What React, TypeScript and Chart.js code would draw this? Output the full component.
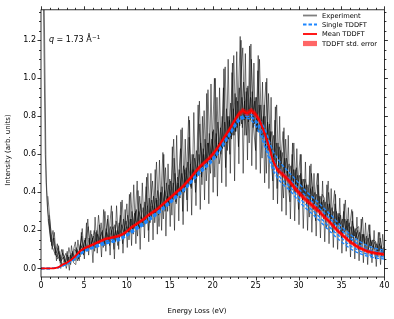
import React, { useEffect, useRef } from "react";
import { Chart, registerables } from "chart.js";

Chart.register(...registerables);

// Experiment: five scans on 0.25 eV grids (interleaved start offsets)
const expStep = 0.25;
const expOffsets = [0, 0.1, 0.2, 0.05, 0.15];
const expScanA = [
  null, 1.5, 0.6, 0.32,
  0.22, 0.12, 0.16, 0.08,
  0.11, 0.03, 0.08, 0.06,
  0.02, 0.11, 0.05, 0.09,
  0.14, 0.04, 0.1, 0.17,
  0.08, 0.15, 0.22, 0.1,
  0.16, 0.09, 0.2, 0.13,
  0.24, 0.11, 0.17, 0.26,
  0.12, 0.2, 0.1, 0.25,
  0.18, 0.28, 0.13, 0.21,
  0.34, 0.15, 0.26, 0.18,
  0.3, 0.17, 0.38, 0.22,
  0.27, 0.43, 0.2, 0.33,
  0.46, 0.24, 0.36, 0.22,
  0.4, 0.26, 0.53, 0.3,
  0.47, 0.28, 0.58, 0.34,
  0.45, 0.63, 0.3, 0.52,
  0.36, 0.69, 0.42, 0.6,
  0.4, 0.55, 0.76, 0.44,
  0.83, 0.46, 0.66, 0.5,
  0.72, 0.48, 0.9, 0.55,
  0.62, 0.95, 0.53, 0.8,
  0.6, 1.03, 0.7, 0.9,
  0.64, 0.98, 1.16, 0.7,
  0.95, 0.66, 1.1, 0.74,
  0.62, 1.04, 0.78, 0.58,
  0.86, 0.5, 0.92, 0.6,
  0.46, 0.78, 0.42, 0.64,
  0.56, 0.37, 0.68, 0.45,
  0.35, 0.6, 0.4, 0.53,
  0.31, 0.5, 0.36, 0.47,
  0.42, 0.27, 0.5, 0.33,
  0.25, 0.44, 0.3, 0.39,
  0.37, 0.21, 0.4, 0.24,
  0.19, 0.34, 0.23, 0.29,
  0.16, 0.3, 0.2, 0.26,
  0.13, 0.25, 0.17, 0.21,
  0.22, 0.1, 0.18, 0.13,
  0.09, 0.18, 0.12, 0.15,
  0.14, 0.06, 0.16, 0.09,
  0.05,
];
const expScanB = [
  null, 1.5, 0.45, 0.25,
  0.16, 0.11, 0.08, 0.06,
  0.09, 0.04, 0.06, 0.03,
  0.07, 0.03, 0.08, 0.05,
  0.11, 0.07, 0.13, 0.09,
  0.15, 0.1, 0.16, 0.12,
  0.17, 0.11, 0.18, 0.13,
  0.19, 0.13, 0.21, 0.14,
  0.22, 0.14, 0.23, 0.16,
  0.24, 0.17, 0.26, 0.18,
  0.28, 0.19, 0.3, 0.21,
  0.31, 0.22, 0.34, 0.24,
  0.35, 0.25, 0.37, 0.27,
  0.38, 0.29, 0.41, 0.3,
  0.43, 0.32, 0.45, 0.34,
  0.46, 0.36, 0.5, 0.38,
  0.52, 0.4, 0.54, 0.43,
  0.56, 0.44, 0.6, 0.47,
  0.62, 0.49, 0.66, 0.52,
  0.68, 0.54, 0.71, 0.57,
  0.73, 0.59, 0.77, 0.62,
  0.8, 0.64, 0.84, 0.68,
  0.87, 0.7, 0.92, 0.74,
  0.95, 0.76, 0.98, 0.79,
  0.96, 0.78, 0.93, 0.76,
  0.9, 0.72, 0.86, 0.68,
  0.8, 0.63, 0.76, 0.59,
  0.7, 0.55, 0.66, 0.52,
  0.61, 0.49, 0.58, 0.47,
  0.54, 0.44, 0.52, 0.42,
  0.49, 0.39, 0.47, 0.38,
  0.44, 0.35, 0.43, 0.34,
  0.39, 0.31, 0.38, 0.3,
  0.35, 0.27, 0.34, 0.26,
  0.3, 0.23, 0.29, 0.22,
  0.26, 0.19, 0.25, 0.18,
  0.22, 0.16, 0.21, 0.15,
  0.19, 0.13, 0.18, 0.12,
  0.16, 0.11, 0.15, 0.1,
  0.13, 0.09, 0.12, 0.08,
  0.1,
];
const expScanC = [
  null, null, null, 0.28,
  0.18, 0.13, 0.09, 0.05,
  0.07, 0.01, 0.05, 0.0,
  0.06, 0.02, 0.09, 0.04,
  0.1, 0.04, 0.19, 0.07,
  0.13, 0.26, 0.11, 0.14,
  0.2, 0.12, 0.28, 0.15,
  0.16, 0.3, 0.13, 0.19,
  0.33, 0.15, 0.2, 0.12,
  0.21, 0.36, 0.17, 0.22,
  0.19, 0.4, 0.2, 0.25,
  0.46, 0.21, 0.27, 0.22,
  0.3, 0.5, 0.24, 0.33,
  0.27, 0.56, 0.28, 0.36,
  0.61, 0.3, 0.38, 0.33,
  0.42, 0.68, 0.35, 0.45,
  0.37, 0.74, 0.4, 0.49,
  0.8, 0.43, 0.52, 0.45,
  0.56, 0.88, 0.48, 0.6,
  0.52, 0.94, 0.55, 0.64,
  1.0, 0.58, 0.66, 0.6,
  0.74, 1.06, 0.62, 0.78,
  0.68, 1.12, 0.72, 0.84,
  1.22, 0.74, 0.88, 0.7,
  0.86, 1.18, 0.74, 0.9,
  0.72, 1.1, 0.7, 0.8,
  0.98, 0.62, 0.72, 0.56,
  0.62, 0.86, 0.5, 0.58,
  0.72, 0.44, 0.52, 0.4,
  0.48, 0.66, 0.4, 0.46,
  0.6, 0.36, 0.44, 0.33,
  0.4, 0.55, 0.31, 0.38,
  0.5, 0.28, 0.35, 0.26,
  0.32, 0.46, 0.24, 0.3,
  0.41, 0.2, 0.27, 0.18,
  0.24, 0.36, 0.15, 0.22,
  0.31, 0.12, 0.19, 0.1,
  0.16, 0.27, 0.09, 0.14,
  0.23, 0.06, 0.12, 0.05,
  0.1, 0.19, 0.06, 0.1,
  0.08,
];
const expScanD = [
  null, null, null, 0.38,
  0.25, 0.1, 0.19, 0.04,
  0.12, 0.0, 0.1, 0.02,
  0.09, -0.01, 0.12, 0.03,
  0.02, 0.15, 0.06, 0.21,
  0.05, 0.24, 0.07, 0.2,
  0.03, 0.27, 0.08, 0.23,
  0.06, 0.31, 0.09, 0.28,
  0.07, 0.3, 0.05, 0.33,
  0.1, 0.35, 0.08, 0.31,
  0.11, 0.39, 0.12, 0.44,
  0.13, 0.41, 0.1, 0.45,
  0.16, 0.48, 0.14, 0.5,
  0.15, 0.52, 0.18, 0.57,
  0.2, 0.6, 0.17, 0.55,
  0.22, 0.64, 0.2, 0.7,
  0.25, 0.73, 0.23, 0.68,
  0.3, 0.78, 0.28, 0.82,
  0.33, 0.86, 0.31, 0.8,
  0.36, 0.92, 0.34, 0.97,
  0.4, 1.0, 0.38, 0.95,
  0.45, 1.05, 0.43, 1.1,
  0.5, 1.08, 0.46, 1.14,
  0.55, 1.2, 0.5, 1.13,
  0.57, 1.17, 0.54, 1.08,
  0.52, 1.12, 0.5, 0.98,
  0.45, 1.0, 0.42, 0.9,
  0.36, 0.85, 0.34, 0.8,
  0.3, 0.74, 0.28, 0.7,
  0.26, 0.66, 0.25, 0.63,
  0.23, 0.6, 0.21, 0.56,
  0.2, 0.54, 0.19, 0.5,
  0.17, 0.5, 0.16, 0.46,
  0.14, 0.44, 0.13, 0.42,
  0.11, 0.39, 0.1, 0.37,
  0.08, 0.34, 0.09, 0.32,
  0.06, 0.3, 0.05, 0.27,
  0.04, 0.26, 0.03, 0.24,
  0.02, 0.23, 0.03, 0.2,
  0.01, 0.19, 0.02, 0.18,
  0.04,
];
const expScanE = [
  null, null, null, 0.26,
  0.14, 0.2, 0.07, 0.13,
  0.04, 0.1, 0.05, 0.08,
  0.03, 0.07, 0.04, 0.1,
  0.09, 0.05, 0.12, 0.1,
  0.16, 0.09, 0.13, 0.18,
  0.11, 0.19, 0.13, 0.17,
  0.2, 0.12, 0.19, 0.15,
  0.19, 0.22, 0.14, 0.2,
  0.16, 0.23, 0.19, 0.25,
  0.2, 0.26, 0.21, 0.29,
  0.22, 0.3, 0.26, 0.32,
  0.25, 0.33, 0.27, 0.36,
  0.29, 0.37, 0.3, 0.4,
  0.32, 0.41, 0.35, 0.44,
  0.35, 0.45, 0.37, 0.48,
  0.39, 0.5, 0.42, 0.53,
  0.44, 0.55, 0.46, 0.58,
  0.48, 0.6, 0.51, 0.63,
  0.53, 0.66, 0.56, 0.68,
  0.58, 0.71, 0.6, 0.74,
  0.63, 0.77, 0.66, 0.8,
  0.69, 0.84, 0.72, 0.88,
  0.75, 0.9, 0.78, 0.93,
  0.77, 0.9, 0.8, 0.88,
  0.72, 0.86, 0.74, 0.8,
  0.64, 0.77, 0.66, 0.72,
  0.55, 0.66, 0.56, 0.62,
  0.48, 0.58, 0.5, 0.55,
  0.43, 0.52, 0.44, 0.49,
  0.38, 0.47, 0.39, 0.44,
  0.34, 0.42, 0.35, 0.4,
  0.3, 0.38, 0.31, 0.36,
  0.26, 0.34, 0.27, 0.32,
  0.22, 0.3, 0.23, 0.28,
  0.18, 0.26, 0.2, 0.24,
  0.14, 0.22, 0.16, 0.2,
  0.12, 0.18, 0.13, 0.17,
  0.1, 0.15, 0.11, 0.14,
  0.08, 0.13, 0.09, 0.11,
  0.07,
];
const expScans = [expScanA, expScanB, expScanC, expScanD, expScanE];

// Mean TDDFT on a 0.5 eV grid
const meanStep = 0.5;
const meanTDDFT = [
  0, 0, 0, 0, 0.005, 0.02, 0.03, 0.045, 0.065, 0.09,
  0.105, 0.115, 0.125, 0.135, 0.145, 0.155, 0.16, 0.165, 0.17, 0.18,
  0.195, 0.215, 0.23, 0.245, 0.26, 0.28, 0.295, 0.31, 0.33, 0.35,
  0.37, 0.39, 0.41, 0.43, 0.455, 0.48, 0.51, 0.535, 0.555, 0.575,
  0.6, 0.63, 0.665, 0.7, 0.735, 0.775, 0.81, 0.83, 0.815, 0.83,
  0.81, 0.775, 0.715, 0.65, 0.57, 0.52, 0.5, 0.48, 0.455, 0.425,
  0.4, 0.375, 0.355, 0.335, 0.315, 0.295, 0.27, 0.25, 0.225, 0.2,
  0.18, 0.16, 0.14, 0.125, 0.11, 0.1, 0.09, 0.085, 0.08, 0.077,
  0.074,
];
// Standard error of the mean on the same grid
const stdErrTDDFT = [
  0, 0, 0, 0, 0.002, 0.003, 0.004, 0.005, 0.006, 0.007,
  0.007, 0.007, 0.008, 0.008, 0.008, 0.008, 0.008, 0.008, 0.008, 0.009,
  0.009, 0.009, 0.009, 0.009, 0.01, 0.01, 0.01, 0.01, 0.01, 0.01,
  0.011, 0.011, 0.011, 0.011, 0.012, 0.012, 0.012, 0.012, 0.012, 0.013,
  0.013, 0.013, 0.013, 0.014, 0.014, 0.014, 0.015, 0.015, 0.015, 0.015,
  0.016, 0.016, 0.016, 0.016, 0.016, 0.016, 0.015, 0.015, 0.015, 0.015,
  0.015, 0.015, 0.014, 0.014, 0.014, 0.014, 0.013, 0.013, 0.013, 0.012,
  0.012, 0.012, 0.011, 0.011, 0.01, 0.01, 0.01, 0.01, 0.009, 0.009,
  0.009,
];

// Single TDDFT runs on a 1 eV grid
const singleStep = 1;
const singleRun1 = [0, 0, 0.005, 0.025, 0.055, 0.09, 0.11, 0.13, 0.14, 0.155, 0.175, 0.21, 0.24, 0.275, 0.31, 0.35, 0.39, 0.43, 0.485, 0.53, 0.575, 0.64, 0.71, 0.78, 0.81, 0.8, 0.74, 0.62, 0.55, 0.5, 0.45, 0.4, 0.36, 0.315, 0.27, 0.22, 0.18, 0.145, 0.12, 0.105, 0.095];
const singleRun2 = [0, 0, 0.004, 0.022, 0.05, 0.085, 0.105, 0.12, 0.135, 0.145, 0.17, 0.2, 0.23, 0.265, 0.3, 0.34, 0.38, 0.425, 0.475, 0.52, 0.565, 0.63, 0.7, 0.77, 0.8, 0.78, 0.7, 0.58, 0.51, 0.47, 0.42, 0.375, 0.335, 0.29, 0.245, 0.2, 0.16, 0.125, 0.1, 0.09, 0.085];
const singleRun3 = [0, 0, 0.005, 0.028, 0.06, 0.095, 0.115, 0.135, 0.15, 0.16, 0.18, 0.215, 0.245, 0.28, 0.315, 0.355, 0.395, 0.44, 0.49, 0.54, 0.585, 0.65, 0.72, 0.79, 0.8, 0.77, 0.67, 0.54, 0.47, 0.43, 0.375, 0.33, 0.29, 0.245, 0.2, 0.16, 0.12, 0.095, 0.075, 0.065, 0.06];
const singleRun4 = [0, 0, 0.004, 0.024, 0.052, 0.088, 0.108, 0.125, 0.138, 0.15, 0.172, 0.205, 0.235, 0.27, 0.305, 0.345, 0.385, 0.43, 0.48, 0.525, 0.57, 0.635, 0.705, 0.775, 0.79, 0.75, 0.65, 0.52, 0.45, 0.41, 0.355, 0.31, 0.27, 0.225, 0.18, 0.14, 0.105, 0.08, 0.065, 0.055, 0.05];
const singleRuns = [singleRun1, singleRun2, singleRun3, singleRun4];

const xTicks = [0, 5, 10, 15, 20, 25, 30, 35, 40];
const yTicks = [0.0, 0.2, 0.4, 0.6, 0.8, 1.0, 1.2];
const xMinorStep = 1;
const yMinorStep = 0.05;

const legendLabels = ["Experiment", "Single TDDFT", "Mean TDDFT", "TDDFT std. error"];
const xTitle = "Energy Loss (eV)";
const yTitle = "Intensity (arb. units)";

const FONT = "'DejaVu Sans', sans-serif";
const EXP_COLOR = "rgba(0,0,0,0.62)";
const EXP_LEGEND = "rgba(0,0,0,0.5)";
const BLUE = "#1c86ff";
const RED = "#ff0000";
const BAND = "rgba(255,0,0,0.6)";

const toXY = (arr: (number | null)[], step: number, offset = 0) =>
  arr.map((v, i) => ({ x: offset + i * step, y: v }));

const decorPlugin = {
  id: "decor",
  afterDatasetsDraw(chart: any) {
    const ctx = chart.ctx;
    const { left, right, top, bottom } = chart.chartArea;
    const xs = chart.scales.x;
    const ys = chart.scales.y;
    ctx.save();
    ctx.strokeStyle = "#000";
    ctx.lineWidth = 0.8;
    ctx.strokeRect(left, top, right - left, bottom - top);
    ctx.beginPath();
    for (let v = xs.min; v <= xs.max + 1e-9; v += xMinorStep) {
      const major = xTicks.some((t) => Math.abs(t - v) < 1e-6);
      const len = major ? 3.5 : 2;
      const px = Math.round(xs.getPixelForValue(v)) + 0.5;
      ctx.moveTo(px, bottom);
      ctx.lineTo(px, bottom + len);
      ctx.moveTo(px, top);
      ctx.lineTo(px, top - len);
    }
    const start = Math.ceil(ys.min / yMinorStep) * yMinorStep;
    for (let v = start; v <= ys.max + 1e-9; v += yMinorStep) {
      const major = yTicks.some((t) => Math.abs(t - v) < 1e-6);
      const len = major ? 3.5 : 2;
      const py = Math.round(ys.getPixelForValue(v)) + 0.5;
      ctx.moveTo(left, py);
      ctx.lineTo(left - len, py);
      ctx.moveTo(right, py);
      ctx.lineTo(right + len, py);
    }
    ctx.stroke();
    ctx.restore();
  },
  afterDraw(chart: any) {
    const ctx = chart.ctx;
    const { left, top } = chart.chartArea;
    ctx.save();
    ctx.fillStyle = "#000";
    ctx.font = `7px ${FONT}`;
    ctx.textAlign = "center";
    ctx.textBaseline = "middle";
    ctx.fillText(xTitle, chart.width / 2, 311);
    ctx.save();
    ctx.translate(8, 150);
    ctx.rotate(-Math.PI / 2);
    ctx.fillText(yTitle, 0, 0);
    ctx.restore();

    ctx.textAlign = "left";
    ctx.textBaseline = "alphabetic";
    let ax = left + 8;
    const ay = top + 32;
    ctx.font = `italic 8px ${FONT}`;
    ctx.fillText("q", ax, ay);
    ax += ctx.measureText("q").width;
    ctx.font = `8px ${FONT}`;
    const mid = " = 1.73 Å";
    ctx.fillText(mid, ax, ay);
    ax += ctx.measureText(mid).width;
    ctx.font = `5.6px ${FONT}`;
    ctx.fillText("−1", ax + 0.3, ay - 3.3);

    const lx0 = 303;
    const lx1 = 317;
    const tx = 322;
    const rows = [15.5, 24.5, 34, 43.5];
    ctx.font = `6.7px ${FONT}`;
    ctx.textBaseline = "middle";
    rows.forEach((ry, i) => {
      ctx.save();
      if (i === 3) {
        ctx.fillStyle = BAND;
        ctx.fillRect(lx0, ry - 2.6, lx1 - lx0, 5.2);
      } else {
        ctx.beginPath();
        ctx.lineWidth = 1.8;
        ctx.strokeStyle = i === 0 ? EXP_LEGEND : i === 1 ? BLUE : RED;
        if (i === 1) ctx.setLineDash([3.5, 2]);
        ctx.moveTo(lx0, ry);
        ctx.lineTo(lx1, ry);
        ctx.stroke();
      }
      ctx.restore();
      ctx.fillStyle = "#000";
      ctx.fillText(legendLabels[i], tx, ry + 0.3);
    });
    ctx.restore();
  },
};

export default function App() {
  const canvasRef = useRef<HTMLCanvasElement | null>(null);

  useEffect(() => {
    document.body.style.margin = "0";
    const canvas = canvasRef.current;
    if (!canvas) return;

    const expDatasets = expScans.map((scan, k) => ({
      label: k === 0 ? "Experiment" : `Experiment ${k + 1}`,
      data: toXY(scan, expStep, expOffsets[k]),
      borderColor: EXP_COLOR,
      borderWidth: 0.85,
      pointRadius: 0,
      fill: false,
      spanGaps: false,
      order: 5,
    }));
    const singleDatasets = singleRuns.map((run, k) => ({
      label: k === 0 ? "Single TDDFT" : `Single TDDFT ${k + 1}`,
      data: toXY(run, singleStep),
      borderColor: BLUE,
      borderWidth: 1.4,
      borderDash: [3.5, 2],
      pointRadius: 0,
      fill: false,
      cubicInterpolationMode: "monotone",
      order: 3,
    }));
    const bandLower = meanTDDFT.map((m, i) => ({ x: i * meanStep, y: m - stdErrTDDFT[i] }));
    const bandUpper = meanTDDFT.map((m, i) => ({ x: i * meanStep, y: m + stdErrTDDFT[i] }));

    const chart = new Chart(canvas, {
      type: "line",
      data: {
        datasets: [
          ...(expDatasets as any[]),
          ...(singleDatasets as any[]),
          {
            label: "err lower",
            data: bandLower,
            borderWidth: 0,
            borderColor: "rgba(0,0,0,0)",
            pointRadius: 0,
            fill: false,
            order: 2,
          } as any,
          {
            label: "TDDFT std. error",
            data: bandUpper,
            borderWidth: 0,
            borderColor: "rgba(0,0,0,0)",
            backgroundColor: BAND,
            pointRadius: 0,
            fill: "-1",
            order: 2,
          } as any,
          {
            label: "Mean TDDFT",
            data: toXY(meanTDDFT, meanStep),
            borderColor: RED,
            borderWidth: 1.8,
            pointRadius: 0,
            fill: false,
            order: 1,
          } as any,
        ],
      },
      options: {
        animation: false,
        responsive: false,
        maintainAspectRatio: false,
        events: [],
        layout: { padding: { top: 5, right: 9, left: 0, bottom: 0 } },
        plugins: {
          legend: { display: false },
          tooltip: { enabled: false },
          filler: { propagate: false },
        },
        scales: {
          x: {
            type: "linear",
            min: 0,
            max: 40,
            grid: { display: false, drawTicks: false },
            border: { display: false },
            afterFit: (s: any) => {
              s.height = 42;
            },
            afterBuildTicks: (s: any) => {
              s.ticks = xTicks.map((v) => ({ value: v }));
            },
            ticks: {
              padding: 4.5,
              color: "#000",
              font: { family: FONT, size: 8 },
              maxRotation: 0,
              callback: (v: any) => String(v),
            },
          },
          y: {
            type: "linear",
            min: -0.045,
            max: 1.36,
            grid: { display: false, drawTicks: false },
            border: { display: false },
            afterFit: (s: any) => {
              s.width = 41;
            },
            afterBuildTicks: (s: any) => {
              s.ticks = yTicks.map((v) => ({ value: v }));
            },
            ticks: {
              padding: 5,
              color: "#000",
              font: { family: FONT, size: 8 },
              callback: (v: any) => Number(v).toFixed(1),
            },
          },
        },
      },
      plugins: [decorPlugin],
    });

    return () => {
      chart.destroy();
    };
  }, []);

  return (
    <div style={{ width: 394, height: 319, position: "relative", background: "#fff" }}>
      <canvas ref={canvasRef} width={394} height={319} style={{ display: "block" }} />
    </div>
  );
}
